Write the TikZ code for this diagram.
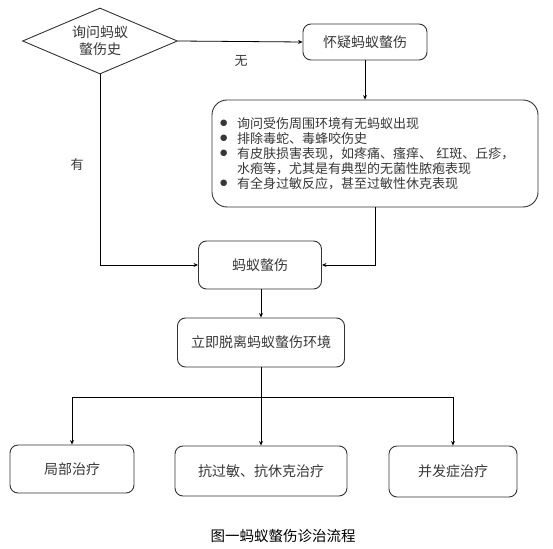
\documentclass[tikz,border=0pt]{standalone}
\usepackage{fontspec}
\setmainfont{Noto Sans CJK SC}
\usetikzlibrary{shapes.geometric,arrows.meta}
\definecolor{txt}{RGB}{55,55,55}
\definecolor{edge}{RGB}{50,50,50}
\newcommand\blt{\makebox[18pt][l]{\hspace*{0.5pt}\raisebox{0.1ex}{\scalebox{1.4}{$\bullet$}}}}
\tikzset{
  box/.style={draw=edge, line width=0.9pt, rounded corners=8pt, text=txt,
    font=\fontsize{14}{17}\selectfont, inner sep=0pt},
  conn/.style={draw=black, line width=0.8pt},
  arr/.style={conn, -{Stealth[length=4.5pt,width=4pt]}},
  lbl/.style={text=txt, font=\fontsize{13}{15}\selectfont, inner sep=0pt}
}
\begin{document}
\begin{tikzpicture}[x=1pt,y=-1pt]
\useasboundingbox (0,0) rectangle (553,548);
\node[diamond, draw=edge, line width=0.9pt, aspect=2.35, inner sep=0pt,
  minimum width=155pt, minimum height=66pt, align=center, text=txt,
  font=\fontsize{14}{17}\selectfont] (dia) at (100,41) {询问蚂蚁\\螫伤史};
\node[box, minimum width=124pt, minimum height=36pt] (huaiyi) at (365,42) {怀疑蚂蚁螫伤};
\node[box, rounded corners=15pt, minimum width=326pt, minimum height=107pt,
  text width=312pt, align=left, inner xsep=7pt,
  font=\fontsize{13}{15}\selectfont] (info) at (375,153.5)
  {\blt 询问受伤周围环境有无蚂蚁出现\\
   \blt 排除毒蛇、毒蜂咬伤史\\
   \blt 有皮肤损害表现，如疼痛、瘙痒、 红斑、丘疹，\\
   \hspace*{18pt}水疱等，尤其是有典型的无菌性脓疱表现\\
   \blt 有全身过敏反应，甚至过敏性休克表现};
\node[box, minimum width=123pt, minimum height=48pt] (mayi) at (260,265) {蚂蚁螫伤};
\node[box, minimum width=167pt, minimum height=49pt] (liji) at (261,342.5) {立即脱离蚂蚁螫伤环境};
\node[box, minimum width=124pt, minimum height=48pt] (jubu) at (72,469) {局部治疗};
\node[box, minimum width=172pt, minimum height=50pt] (kang) at (261,471) {抗过敏、抗休克治疗};
\node[box, minimum width=128pt, minimum height=51pt] (bingfa) at (453,471.5) {并发症治疗};
\node[lbl] (wu) at (241,61) {无};
\node[lbl] (you) at (77,165) {有};
\node[inner sep=0pt, font=\fontsize{14.5}{17}\selectfont] (cap) at (283,536) {图一蚂蚁螫伤诊治流程};
\coordinate (j) at (261,397);
\draw[arr] (dia.east) -- (huaiyi.west);
\draw[arr] (huaiyi.south) -- (huaiyi.south |- info.north);
\draw[arr] (dia.south) |- (mayi.west);
\draw[arr] (info.south) |- (mayi.east);
\draw[arr] (mayi.south -| liji.north) -- (liji.north);
\draw[arr] (liji.south) -- (kang.north);
\draw[arr] (j) -| (jubu.north);
\draw[arr] (j) -| (bingfa.north);
\end{tikzpicture}
\end{document}
